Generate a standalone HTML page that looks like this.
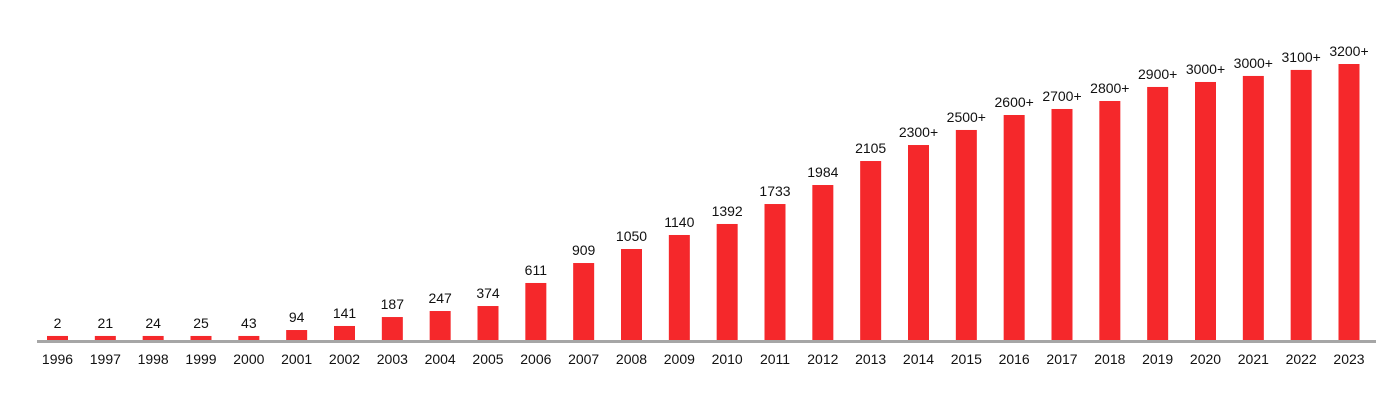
<!DOCTYPE html>
<html><head><meta charset="utf-8"><style>
html,body{margin:0;padding:0;background:#fff;}
svg{display:block;font-family:"Liberation Sans","DejaVu Sans",sans-serif;}
</style></head><body>
<svg id="chart" width="1396" height="404" viewBox="0 0 1396 404" xmlns="http://www.w3.org/2000/svg"></svg>
<script>
const years = ["1996","1997","1998","1999","2000","2001","2002","2003","2004","2005","2006","2007","2008","2009","2010","2011","2012","2013","2014","2015","2016","2017","2018","2019","2020","2021","2022","2023"];
const values = [47,47,47,47,47,116,163,267,337,395,663,895,1058,1221,1349,1581,1802,2081,2267,2442,2616,2686,2779,2942,3000,3070,3140,3209];
const valueLabels = ["2","21","24","25","43","94","141","187","247","374","611","909","1050","1140","1392","1733","1984","2105","2300+","2500+","2600+","2700+","2800+","2900+","3000+","3000+","3100+","3200+"];

const svg = document.getElementById('chart');
const NS = 'http://www.w3.org/2000/svg';
const baseY = 340, firstX = 57.5, lastX = 1349, barW = 21, scale = 276/3209;
const step = (lastX - firstX) / (years.length - 1);
const xScale = i => firstX + i * step;
const yScale = v => baseY - v * scale;

years.forEach((yr, i) => {
  const cx = xScale(i), top = yScale(values[i]);
  const r = document.createElementNS(NS, 'rect');
  
  
  r.setAttribute('x', cx - barW/2); r.setAttribute('y', top);
  r.setAttribute('width', barW); r.setAttribute('height', baseY - top);
  r.setAttribute('fill', '#f5282b');
  svg.appendChild(r);

  const t = document.createElementNS(NS, 'text');
  
  
  t.setAttribute('x', cx); t.setAttribute('y', top - 8);
  t.setAttribute('text-anchor', 'middle'); t.setAttribute('font-size', '14'); t.setAttribute('fill', '#111');
  t.textContent = valueLabels[i];
  svg.appendChild(t);

  const l = document.createElementNS(NS, 'text');
  
  
  l.setAttribute('x', cx); l.setAttribute('y', 364);
  l.setAttribute('text-anchor', 'middle'); l.setAttribute('font-size', '14'); l.setAttribute('fill', '#111');
  l.textContent = yr;
  svg.appendChild(l);
});

const ax = document.createElementNS(NS, 'line');


ax.setAttribute('x1', 37); ax.setAttribute('x2', 1376);
ax.setAttribute('y1', 341.5); ax.setAttribute('y2', 341.5);
ax.setAttribute('stroke', '#a6a6a6'); ax.setAttribute('stroke-width', '3');
svg.appendChild(ax);
</script>
</body></html>
